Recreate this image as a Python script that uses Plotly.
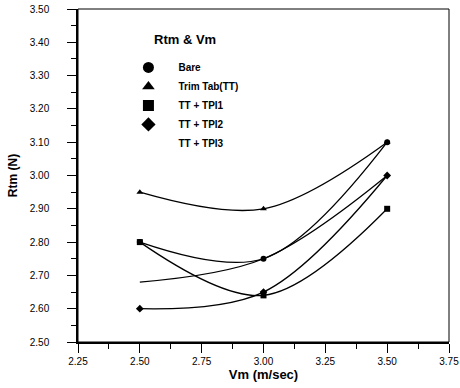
import plotly.graph_objects as go

vm = [2.5, 3.0, 3.5]
bare = [2.80, 2.75, 3.10]
trim_tab = [2.95, 2.90, 3.10]
tt_tpi1 = [2.80, 2.64, 2.90]
tt_tpi2 = [2.60, 2.65, 3.00]
tt_tpi3 = [2.68, 2.75, 3.00]

series_names = ["Bare", "Trim Tab(TT)", "TT + TPI1", "TT + TPI2", "TT + TPI3"]
series_vals = [bare, trim_tab, tt_tpi1, tt_tpi2, tt_tpi3]
symbols = ["circle", "triangle-up", "square", "diamond", None]

x_ticks = [2.25, 2.50, 2.75, 3.00, 3.25, 3.50, 3.75]
y_ticks = [2.50, 2.60, 2.70, 2.80, 2.90, 3.00, 3.10, 3.20, 3.30, 3.40, 3.50]

FONT = "Liberation Sans, Arial, sans-serif"

fig = go.Figure()
for name, vals, sym in zip(series_names, series_vals, symbols):
    fig.add_trace(go.Scatter(
        x=vm, y=vals, mode="lines+markers" if sym else "lines",
        line=dict(color="black", width=1.3, shape="spline", smoothing=1),
        marker=dict(symbol=sym or "circle", size=6, color="black"),
        showlegend=False, name=name))

# legend entries (marker only)
for name, sym in zip(series_names, symbols):
    fig.add_trace(go.Scatter(
        x=[None], y=[None], mode="markers", name=name,
        marker=dict(symbol=sym or "circle", size=11,
                    color="black" if sym else "rgba(0,0,0,0)")))

axis_common = dict(
    showline=True, linecolor="black", linewidth=1.5, mirror=False,
    ticks="outside", ticklen=9, tickwidth=1.2, tickcolor="black",
    showgrid=False, zeroline=False, automargin=False,
    ticklabeloverflow="allow",
    tickfont=dict(family=FONT, size=10, color="black"),
)

fig.update_xaxes(
    range=[2.25, 3.75], tickvals=x_ticks, tickformat=".2f",
    minor=dict(dtick=0.125, ticks="outside", ticklen=5, tickwidth=1, tickcolor="black"),
    title=dict(text="<b>Vm (m/sec)</b>", font=dict(family=FONT, size=13, color="black"), standoff=1),
    ticklabelstandoff=0,
    **axis_common)
fig.update_yaxes(
    range=[2.5, 3.5], tickvals=y_ticks, tickformat=".2f",
    minor=dict(dtick=0.05, ticks="outside", ticklen=5, tickwidth=1, tickcolor="black"),
    title=dict(text="<b>Rtm (N)</b>", font=dict(family=FONT, size=12, color="black"), standoff=10),
    ticklabelstandoff=16,
    **axis_common)

fig.add_shape(type="rect", xref="paper", yref="paper", x0=0, y0=0, x1=1, y1=1,
              line=dict(color="black", width=1))

fig.add_annotation(text="<b>Rtm & Vm</b>", xref="paper", yref="paper",
                   x=0.2, y=0.909, xanchor="left", yanchor="middle", showarrow=False,
                   font=dict(family=FONT, size=13, color="black"))

fig.update_layout(
    width=460, height=388,
    margin=dict(l=78, r=11, t=9, b=46),
    paper_bgcolor="white", plot_bgcolor="white",
    font=dict(family=FONT, color="black"),
    legend=dict(x=0.109, y=0.868, xanchor="left", yanchor="top",
                bgcolor="rgba(0,0,0,0)", itemwidth=50,
                font=dict(family=FONT, size=10, color="black", weight="bold")),
)

# remove the browser's default 8px body margin so the figure fills the window
fig.write_html("out.html", config={"displayModeBar": False},
               post_script="document.body.style.margin='0';")
